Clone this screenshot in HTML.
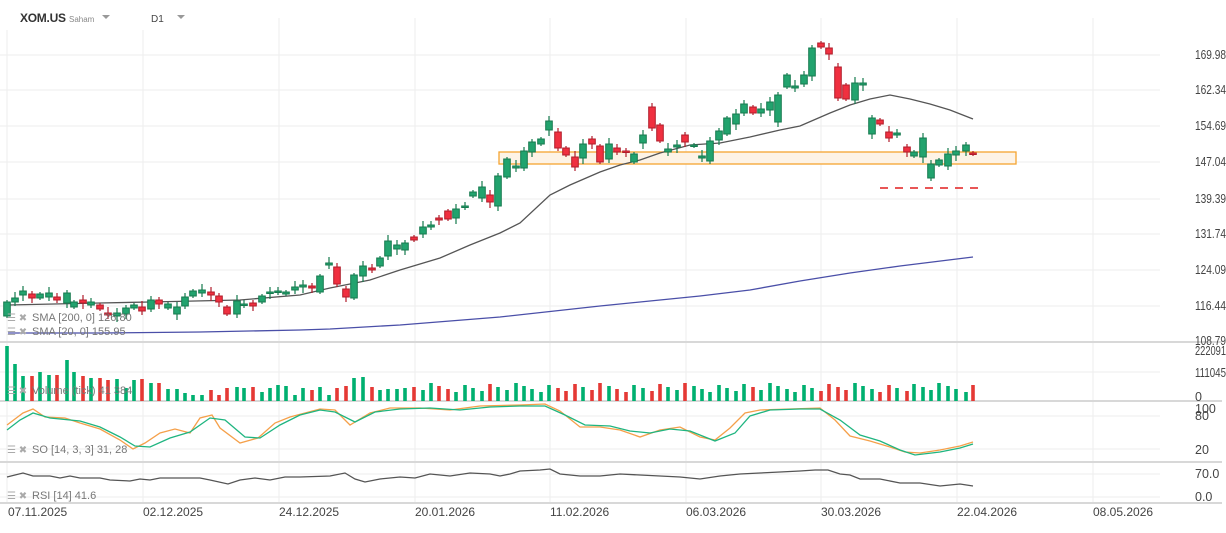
<!DOCTYPE html>
<html><head><meta charset="utf-8"><style>
body{margin:0;background:#fff;font-family:"Liberation Sans",sans-serif;}
svg text{font-family:"Liberation Sans",sans-serif;}
</style></head><body>
<svg id="s" width="1226" height="528" xmlns="http://www.w3.org/2000/svg">
<rect width="1226" height="528" fill="#fff"/>
<g id="grid" stroke="#eeeeee" stroke-width="1"></g>
<g stroke="#d8d8d8" stroke-width="2">
<line x1="0" y1="342" x2="1222" y2="342"/><line x1="0" y1="401" x2="1222" y2="401"/>
<line x1="0" y1="462" x2="1222" y2="462"/><line x1="0" y1="503" x2="1222" y2="503"/>
</g>
<rect x="499" y="152" width="517" height="12" fill="#fdf3e6" stroke="#f5a431" stroke-width="1.3"/>
<line x1="880" y1="188" x2="985" y2="188" stroke="#e01e1e" stroke-width="1.5" stroke-dasharray="8,7"/>
<polyline fill="none" stroke="#4a4fa8" stroke-width="1.3" points="8,333 100,333 200,332 300,330 330,329 400,325 500,317 600,306 700,296 750,290 800,281 850,273 900,266 973,257"/>
<polyline fill="none" stroke="#555" stroke-width="1.3" points="8,305 100,303 150,302 240,300 300,295 330,288 370,280 400,270 440,258 470,245 500,233 520,223 550,195 570,185 600,172 620,165 640,160 660,153 690,145 720,143 750,137 780,130 800,126 830,113 850,105 870,99 890,95 910,99 930,104 950,110 973,119"/>
<g id="candles"></g>
<g id="vol"></g>
<polyline fill="none" stroke="#f5a04a" stroke-width="1.3" points="7,425 23,413 33,409 45,417 65,418 80,423 100,429 120,440 133,449 145,443 160,433 175,429 190,433 200,418 212,415 220,428 240,443 258,438 275,423 290,417 320,409 335,410 350,425 370,413 390,408 420,408 450,410 480,406 520,405 545,404 560,411 580,427 600,427 620,430 640,437 660,430 680,427 700,437 715,440 730,428 745,413 760,410 790,409 820,408 835,420 850,436 870,441 890,447 905,452 920,453 940,450 960,446 973,442"/>
<polyline fill="none" stroke="#1fb580" stroke-width="1.3" points="7,430 20,420 33,413 50,418 80,421 100,427 120,437 135,446 150,447 170,438 190,432 210,418 225,420 245,437 260,438 280,425 300,415 320,410 335,412 355,422 375,412 400,409 430,408 460,410 490,407 520,406 545,406 565,415 585,425 610,426 630,431 650,433 670,429 690,431 715,441 735,433 750,416 770,410 800,409 820,409 840,420 860,435 880,441 900,450 915,455 940,452 960,448 973,444"/>
<polyline fill="none" stroke="#555" stroke-width="1.3" points="7,477 23,473 33,476 50,476 60,478 70,476 80,478 100,478 110,480 130,481 140,479 150,480 160,478 175,478 190,478 200,478 210,480 228,484 240,480 255,478 270,480 285,477 300,477 330,476 345,473 355,479 365,482 380,479 400,477 415,478 430,474 450,476 470,473 490,474 500,476 510,474 520,471 540,470 550,469 560,474 580,476 600,476 620,474 640,475 660,476 680,477 700,479 720,476 740,474 760,473 780,472 800,471 815,470 828,470 840,474 850,475 860,479 880,479 900,483 920,483 940,486 960,484 973,486"/>
<g fill="#777" font-size="11">
<text x="32" y="321">SMA [200, 0] 126.80</text>
<text x="32" y="335">SMA [20, 0] 155.95</text>
<text x="32" y="394">Volume (tick) 41 384</text>
<text x="32" y="453">SO [14, 3, 3] 31, 28</text>
<text x="32" y="499">RSI [14] 41.6</text>
</g>
<g fill="#aaa" font-size="10">
<text x="7" y="321">☰ ✖</text><text x="7" y="335">☰ ✖</text><text x="7" y="394">☰ ✖</text><text x="7" y="453">☰ ✖</text><text x="7" y="499">☰ ✖</text>
</g>
<g fill="#444" font-size="12.5">
<text x="1195" y="59" textLength="31" lengthAdjust="spacingAndGlyphs">169.98</text><text x="1195" y="94" textLength="31" lengthAdjust="spacingAndGlyphs">162.34</text><text x="1195" y="130" textLength="31" lengthAdjust="spacingAndGlyphs">154.69</text>
<text x="1195" y="166" textLength="31" lengthAdjust="spacingAndGlyphs">147.04</text><text x="1195" y="203" textLength="31" lengthAdjust="spacingAndGlyphs">139.39</text><text x="1195" y="238" textLength="31" lengthAdjust="spacingAndGlyphs">131.74</text>
<text x="1195" y="274" textLength="31" lengthAdjust="spacingAndGlyphs">124.09</text><text x="1195" y="310" textLength="31" lengthAdjust="spacingAndGlyphs">116.44</text><text x="1195" y="345" textLength="31" lengthAdjust="spacingAndGlyphs">108.79</text>
<text x="1195" y="355" textLength="31" lengthAdjust="spacingAndGlyphs">222091</text><text x="1195" y="377" textLength="31" lengthAdjust="spacingAndGlyphs">111045</text><text x="1195" y="401">0</text>
<text x="1195" y="413">100</text><text x="1195" y="420">80</text><text x="1195" y="454">20</text>
<text x="1195" y="478">70.0</text><text x="1195" y="501">0.0</text>
</g>
<g fill="#444" font-size="12">
<text x="8" y="516">07.11.2025</text><text x="143" y="516">02.12.2025</text><text x="279" y="516">24.12.2025</text>
<text x="415" y="516">20.01.2026</text><text x="550" y="516">11.02.2026</text><text x="686" y="516">06.03.2026</text>
<text x="821" y="516">30.03.2026</text><text x="957" y="516">22.04.2026</text><text x="1093" y="516">08.05.2026</text>
</g>
<rect x="0" y="0" width="230" height="30" fill="#fff"/>
<text x="20" y="22" font-size="12" font-weight="bold" fill="#333" textLength="46">XOM.US</text>
<text x="69" y="22" font-size="8" fill="#888">Saham</text>
<path d="M102 15 l4 4 l4 -4z" fill="#999"/>
<text x="151" y="22" font-size="10" fill="#444">D1</text>
<path d="M177 15 l4 4 l4 -4z" fill="#999"/>
</svg>
<script>
var NS="http://www.w3.org/2000/svg";
function el(p,t,a){var e=document.createElementNS(NS,t);for(var k in a)e.setAttribute(k,a[k]);p.appendChild(e);return e;}
var g=document.getElementById('grid');
[7,143,279,415,550,686,821,957,1093].forEach(function(x){el(g,'line',{x1:x,y1:18,x2:x,y2:503});});
[55,90,126,162,199,234,270,306].forEach(function(y){el(g,'line',{x1:0,y1:y,x2:1160,y2:y});});
[372,416,449,474,497].forEach(function(y){el(g,'line',{x1:0,y1:y,x2:1160,y2:y});});
var C=[[7,316,302],[15,302,298],[23,295,291],[32,294,298],[40,298,294],[49,297,293],[57,297,300],[67,303,293],[74,307,302],[83,300,303],[91,305,302],[100,305,309],[108,313,315],[117,316,313],[126,314,308],[134,308,305],[142,307,311],[151,309,300],[159,300,304],[168,308,304],[177,314,307],[185,306,297],[193,296,291],[202,293,290],[211,292,295],[219,296,302],[227,307,314],[237,314,301],[244,305,304],[253,303,306],[262,302,296],[270,293,292],[278,292,291],[286,294,292],[295,290,287],[303,287,285],[312,286,288],[320,292,276],[329,265,263],[337,267,284],[346,289,297],[354,298,275],[363,276,266],[372,268,270],[380,266,258],[388,256,241],[397,249,245],[405,250,243],[414,237,240],[423,234,227],[431,227,225],[439,218,220],[448,211,219],[456,218,209],[465,207,206],[473,196,192],[482,198,187],[490,195,202],[498,206,176],[507,177,159],[516,168,166],[524,168,151],[532,152,142],[541,144,139],[549,130,121],[558,132,148],[566,148,155],[575,157,167],[583,158,144],[592,139,144],[600,146,162],[609,159,144],[617,148,152],[626,151,152],[634,162,154],[643,143,135],[652,107,128],[660,125,141],[668,152,149],[677,147,145],[685,135,142],[694,146,145],[702,158,156],[710,161,141],[719,140,131],[727,134,118],[736,124,114],[744,113,104],[753,107,113],[761,113,109],[770,110,102],[778,122,95],[787,87,75],[795,88,86],[804,84,75],[812,76,48],[821,43,47],[829,48,54],[838,67,98],[846,85,99],[855,100,83],[863,85,83],[872,134,118],[880,120,124],[889,132,138],[897,135,133],[907,147,152],[914,156,152],[923,157,138],[931,178,164],[939,165,160],[948,166,154],[956,155,151],[966,151,145],[973,153,154]];
var cg=document.getElementById('candles'),vg=document.getElementById('vol');
var vt=[346,364,376,376,372,375,375,360,372,376,378,378,380,379,388,380,379,383,383,389,389,393,395,395,390,395,388,387,388,387,392,388,385,386,395,388,390,387,395,388,386,378,377,387,390,389,389,388];
C.forEach(function(c,i){
 var up=c[2]<=c[1],col=up?'#22a36e':'#f03040',str=up?'#157a4e':'#b01c2a';
 var t=Math.min(c[1],c[2]),b=Math.max(c[1],c[2]);
 var r=(i*37%11);
 var hi=t-2-(r%5),lo=b+2+((r*3)%5);
 el(cg,'line',{x1:c[0],y1:hi,x2:c[0],y2:lo,stroke:str,'stroke-width':1.2});
 el(cg,'rect',{x:c[0]-3.3,y:t,width:6.6,height:Math.max(b-t,1.5),fill:col,stroke:str,'stroke-width':1});
 var vy=i<vt.length?vt[i]:383+((i*53)%10);
 el(vg,'rect',{x:c[0]-1.8,y:vy,width:3.6,height:401-vy,fill:up?'#00b070':'#e53935'});
});
</script>
</body></html>
